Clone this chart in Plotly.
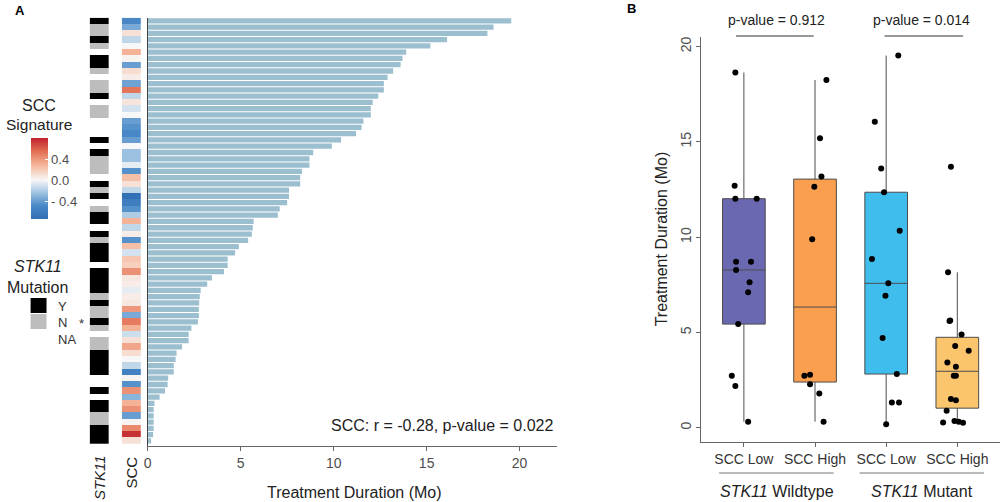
import numpy as np
import plotly.graph_objects as go

W, H = 1000, 502
def px(x): return x / W
def py(y): return 1 - y / H

FONT = "Liberation Sans, Arial, sans-serif"

# ---------------- Panel A data ----------------
duration = [19.55, 18.6, 18.27, 16.1, 15.2, 13.9, 13.7, 13.6, 13.2, 12.9, 12.7, 12.7, 12.4,
            12.1, 12.0, 12.0, 11.6, 11.5, 11.2, 10.4, 9.9, 8.9, 8.7, 8.7, 8.3, 8.2, 8.2, 7.6,
            7.6, 7.5, 7.1, 7.0, 5.7, 5.65, 5.6, 5.4, 4.9,
            4.7, 4.3, 4.3, 4.1, 3.45, 3.2, 2.85, 2.8, 2.77, 2.75, 2.75, 2.7, 2.35, 2.2, 2.2,
            1.85, 1.55, 1.5, 1.4, 1.4, 1.1, 1.07, 0.93, 0.64, 0.36, 0.32, 0.32, 0.32, 0.32,
            0.29, 0.18]

scc_signature = [-0.5, -0.35, 0.1, -0.15, 0.0, 0.3, 0.02, -0.4, 0.12, 0.05, -0.38, 0.52, -0.15,
                 0.08, -0.1, 0.0, -0.4, -0.45, -0.5, -0.4, 0.0, -0.25, -0.25, -0.05, -0.45, 0.25,
                 0.1, -0.15, -0.7, -0.6, -0.45, -0.2, 0.3, -0.15, 0.05, -0.45, 0.25, -0.1, 0.22,
                 0.18, 0.42, 0.07, 0.05, -0.05, 0.05, 0.07, 0.4, -0.35, 0.5, 0.3, -0.12, 0.1, 0.35,
                 0.12, 0.0, -0.15, -0.55, 0.02, -0.45, 0.42, -0.3, 0.3, 0.42, -0.4, 0.02, 0.45,
                 0.75, 0.1]

stk11_status = ["Y", "N", "N", "Y", "N", "NA", "Y", "Y", "N", "NA", "N", "N", "Y", "NA", "N", "N",
                "NA", "NA", "NA", "Y", "NA", "Y", "N", "N", "N", "NA", "Y", "N", "Y", "NA", "N", "Y",
                "Y", "NA", "Y", "N", "Y", "Y", "Y", "NA", "Y", "Y", "Y", "Y", "N", "Y", "N", "N",
                "Y", "N", "NA", "N", "N", "Y", "Y", "Y", "Y", "NA", "NA", "Y", "NA", "Y", "Y", "N",
                "N", "Y", "Y", "Y"]

# ---------------- Panel B data ----------------
group_labels = ["SCC Low", "SCC High", "SCC Low", "SCC High"]
group_pos = [1, 2, 3, 4]
wt_low = [18.64, 12.70, 12.02, 12.02, 8.71, 8.71, 8.28, 7.63, 7.11, 5.44, 2.73, 2.19, 0.32]
wt_low_x = [0.88, 0.87, 0.88, 1.18, 0.89, 1.10, 0.89, 1.08, 1.06, 0.92, 0.83, 0.88, 1.06]
wt_high = [18.25, 15.19, 13.18, 12.65, 9.89, 2.78, 2.73, 2.29, 1.80, 0.32]
wt_high_x = [2.16, 2.07, 2.09, 1.99, 1.96, 1.93, 1.85, 1.93, 2.06, 2.12]
mut_low = [19.53, 16.06, 13.60, 12.36, 10.34, 8.86, 7.58, 6.93, 4.71, 2.82, 1.33, 1.33, 0.19]
mut_low_x = [3.17, 2.84, 2.93, 2.97, 3.19, 2.80, 3.03, 2.99, 2.95, 3.15, 3.08, 3.18, 3.00]
mut_high = [13.70, 8.16, 5.63, 5.60, 4.90, 4.29, 4.04, 3.43, 3.20, 2.73, 2.73, 1.51, 1.45, 0.89,
            0.35, 0.32, 0.28, 0.26]
mut_high_x = [3.91, 3.87, 3.90, 3.89, 4.06, 3.97, 4.16, 3.86, 3.98, 3.95, 3.98, 3.91, 3.98, 3.85,
              3.96, 4.02, 3.80, 4.08]
box_colors = ["#6b68b2", "#f99f4f", "#3fbdec", "#fbc56e"]
p_values = ["p-value = 0.912", "p-value = 0.014"]

fig = go.Figure()
rows = list(range(len(duration)))

# bars
fig.add_trace(go.Bar(x=duration, y=rows, orientation="h", marker_color="#9bbfcf",
                     marker_line_width=0, xaxis="x", yaxis="y", showlegend=False,
                     hoverinfo="skip"))

# STK11 heatmap
stk_code = {"NA": 0, "N": 1, "Y": 2}
fig.add_trace(go.Heatmap(z=[[stk_code[s]] for s in stk11_status], x=[0], y=rows,
                         xaxis="x2", yaxis="y", zmin=0, zmax=2, showscale=False,
                         colorscale=[[0, "white"], [0.25, "white"], [0.25, "#bdbdbd"],
                                     [0.75, "#bdbdbd"], [0.75, "black"], [1, "black"]],
                         hoverinfo="skip"))

# SCC heatmap
zmin, zmax = -0.74, 0.8
mid = -zmin / (zmax - zmin)
fig.add_trace(go.Heatmap(z=[[v] for v in scc_signature], x=[0], y=rows,
                         xaxis="x3", yaxis="y", zmin=zmin, zmax=zmax,
                         colorscale=[[0, "#2f6db3"], [mid * 0.35, "#4a8ac8"], [mid * 0.7, "#a6c8e3"],
                                     [mid, "#f7f7f7"], [mid + (1 - mid) * 0.35, "#f6b89d"],
                                     [mid + (1 - mid) * 0.7, "#e06a4f"], [1, "#c0212e"]],
                         colorbar=dict(x=px(26.7), xanchor="left", y=py(178.5), yanchor="middle",
                                       lenmode="pixels", len=81, thickness=17,
                                       thicknessmode="pixels", xpad=0, ypad=0, outlinewidth=0,
                                       tickvals=[-0.4, 0, 0.4], ticktext=["- 0.4", "0.0", "0.4"],
                                       ticks="inside", ticklen=3, tickcolor="white",
                                       tickfont=dict(size=13, color="#4d4d4d", family=FONT)),
                         hoverinfo="skip"))

# Panel B boxes (R-style type-7 quartiles, Tukey whiskers)
groups = [(wt_low, wt_low_x), (wt_high, wt_high_x), (mut_low, mut_low_x), (mut_high, mut_high_x)]
for (vals, xs), pos, col in zip(groups, group_pos, box_colors):
    a = np.array(vals)
    q1, med, q3 = np.percentile(a, [25, 50, 75])
    iqr = q3 - q1
    lo = a[a >= q1 - 1.5 * iqr].min()
    hi = a[a <= q3 + 1.5 * iqr].max()
    fig.add_trace(go.Box(x=[pos], q1=[q1], median=[med], q3=[q3], lowerfence=[lo],
                         upperfence=[hi], width=0.6, boxpoints=False,
                         fillcolor=col, line=dict(color="#4d4d4d", width=1), whiskerwidth=0,
                         xaxis="x4", yaxis="y4", showlegend=False, hoverinfo="skip"))
for vals, xs in groups:
    fig.add_trace(go.Scatter(x=xs, y=vals, mode="markers", xaxis="x4", yaxis="y4",
                             marker=dict(color="black", size=6), showlegend=False,
                             hoverinfo="skip"))

annotations = []
def ann(text, x, y, size=14, xanchor="center", yanchor="middle", color="#222", angle=0, **kw):
    annotations.append(dict(text=text, x=px(x), y=py(y), xref="paper", yref="paper",
                            xanchor=xanchor, yanchor=yanchor, showarrow=False, textangle=angle,
                            font=dict(size=size, color=color, family=FONT), **kw))

ann("<b>A</b>", 16, 11, size=13, color="black")
ann("<b>B</b>", 630, 9, size=13, color="black")
ann("SCC: r = -0.28, p-value = 0.022", 553, 425, size=16, xanchor="right")
ann("Treatment Duration (Mo)", 352, 492, size=16)
ann("SCC", 35, 105, size=16)
ann("Signature", 35, 124, size=15.5)
ann("<i>STK11</i>", 34, 266, size=16)
ann("Mutation", 34, 287, size=16)
ann("Y", 52, 306, size=13, xanchor="left", color="#333")
ann("N", 52, 322, size=13, xanchor="left", color="#333")
ann("NA", 52, 339, size=13, xanchor="left", color="#333")
ann("*", 78, 323, size=13, color="#333")
ann("<i>STK11</i>", 96, 453, size=15, yanchor="top", angle=-90)
ann("SCC", 128, 454, size=15, yanchor="top", angle=-90)
ann(p_values[0], 776, 20, size=14)
ann(p_values[1], 921, 20, size=14)
ann("Treatment Duration (Mo)", 660, 239, size=16, angle=-90)
ann("<i>STK11</i> Wildtype", 776, 491, size=16)
ann("<i>STK11</i> Mutant", 922, 491, size=16)

shapes = []
def hline(x0, x1, y, color="#333"):
    shapes.append(dict(type="line", xref="paper", yref="paper", x0=px(x0), x1=px(x1),
                       y0=py(y), y1=py(y), line=dict(color=color, width=1)))
hline(735, 813, 36)
hline(884, 963, 36)
hline(718, 833, 473, color="#777")
hline(859, 984, 473, color="#777")
shapes.append(dict(type="rect", xref="paper", yref="paper", x0=px(26.7), x1=px(42.7),
                   y0=py(313), y1=py(298), fillcolor="black", line=dict(width=0)))
shapes.append(dict(type="rect", xref="paper", yref="paper", x0=px(26.7), x1=px(42.7),
                   y0=py(329), y1=py(314), fillcolor="#bdbdbd", line=dict(width=0)))

axis_font = dict(size=14, color="#4d4d4d", family=FONT)
fig.update_layout(
    width=W, height=H, margin=dict(l=0, r=0, t=0, b=0),
    paper_bgcolor="white", plot_bgcolor="white", bargap=0.16,
    font=dict(family=FONT),
    xaxis=dict(domain=[px(144.3), px(555)], range=[0, 22], tickvals=[0, 5, 10, 15, 20],
               showline=True, linecolor="#666", ticks="outside", ticklen=4, tickcolor="#666",
               tickfont=axis_font, showgrid=False, zeroline=False, anchor="y"),
    yaxis=dict(domain=[py(445.7), py(17.7)], range=[67.76, -0.5], showline=True,
               linecolor="#444", showticklabels=False, ticks="", showgrid=False,
               zeroline=False, anchor="x"),
    xaxis2=dict(domain=[px(86), px(105.5)], range=[-0.5, 0.5], visible=False, anchor="y"),
    xaxis3=dict(domain=[px(118.3), px(137.5)], range=[-0.5, 0.5], visible=False, anchor="y"),
    xaxis4=dict(domain=[px(700), px(1000)], range=[0.4, 4.6], tickvals=group_pos,
                ticktext=group_labels, showline=True, linecolor="#666", ticks="outside",
                ticklen=4, tickcolor="#666", tickfont=dict(size=14, color="#333", family=FONT),
                showgrid=False, zeroline=False, anchor="y4"),
    yaxis4=dict(domain=[py(441.7), py(36.7)], range=[-0.73, 20.52], tickvals=[0, 5, 10, 15, 20],
                tickangle=-90, showline=True, linecolor="#666", ticks="outside", ticklen=4,
                tickcolor="#666", tickfont=dict(size=14, color="#4d4d4d", family=FONT),
                showgrid=False, zeroline=False, anchor="x4"),
    annotations=annotations, shapes=shapes,
)

# remove the default 8px page margin so the figure fills the 1000x502 window
fig.write_html("out.html", config={"displayModeBar": False},
               post_script="document.body.style.margin='0';document.body.style.overflow='hidden';")
